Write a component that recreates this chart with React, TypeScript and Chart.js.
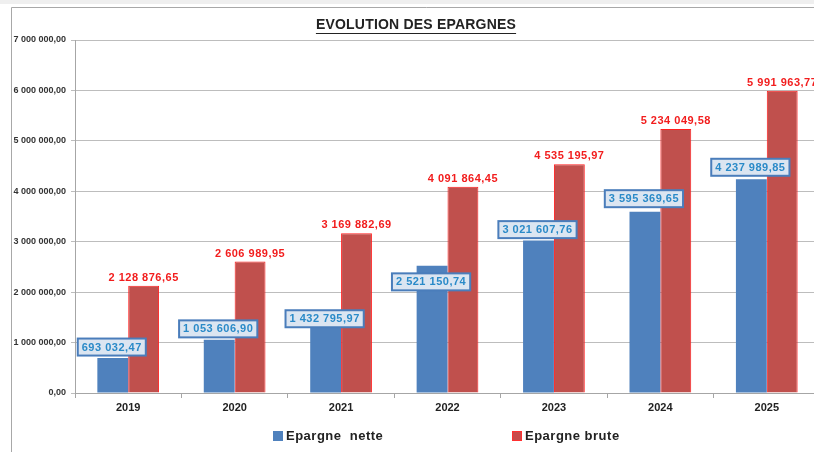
import React, { useEffect, useRef } from "react";
import { Chart, registerables } from "chart.js";

Chart.register(...registerables);

const years = ["2019", "2020", "2021", "2022", "2023", "2024", "2025"];
const epargneNette = [693032.47, 1053606.9, 1432795.97, 2521150.74, 3021607.76, 3595369.65, 4237989.85];
const epargneBrute = [2128876.65, 2606989.95, 3169882.69, 4091864.45, 4535195.97, 5234049.58, 5991963.77];
const seriesNames = ["Epargne  nette", "Epargne brute"];
const chartTitle = "EVOLUTION DES EPARGNES";

const BLUE = "#4f81bd";
const RED = "#c0504d";
const FONT = "'Liberation Sans', Arial, sans-serif";

function fmt(v: number): string {
  const [i, d] = v.toFixed(2).split(".");
  return i.replace(/\B(?=(\d{3})+(?!\d))/g, " ") + "," + d;
}

// vertical nudges (px) of the boxed labels, as in the source picture
const netLabelNudge = [0, 0, 9, 27, 0, -2, -1];

const decorPlugin = {
  id: "decor",
  beforeDraw(chart: any) {
    const ctx = chart.ctx;
    ctx.save();
    ctx.fillStyle = "#ffffff";
    ctx.fillRect(0, 0, chart.width, chart.height);
    ctx.fillStyle = "#efefef";
    ctx.fillRect(0, 0, chart.width, 4);
    ctx.strokeStyle = "#a8a8a8";
    ctx.lineWidth = 1;
    ctx.beginPath();
    ctx.moveTo(11.5, chart.height + 2);
    ctx.lineTo(11.5, 7.5);
    ctx.lineTo(chart.width + 2, 7.5);
    ctx.stroke();
    ctx.restore();
  },
  afterDraw(chart: any) {
    const ctx = chart.ctx;
    ctx.save();
    // title
    ctx.font = `bold 14px ${FONT}`;
    ctx.fillStyle = "#222222";
    ctx.textAlign = "center";
    ctx.textBaseline = "middle";
    const tx = 416;
    const ty = 25;
    (ctx as any).letterSpacing = "0.2px";
    ctx.fillText(chartTitle, tx, ty);
    const w = ctx.measureText(chartTitle).width;
    ctx.strokeStyle = "#222222";
    ctx.lineWidth = 1;
    ctx.beginPath();
    ctx.moveTo(tx - w / 2, ty + 8.5);
    ctx.lineTo(tx + w / 2, ty + 8.5);
    ctx.stroke();

    // legend
    const items = [
      { x: 273, color: BLUE, border: BLUE, text: seriesNames[0] },
      { x: 512, color: "#c94a4a", border: "#ff3030", text: seriesNames[1] },
    ];
    ctx.font = `bold 13px ${FONT}`;
    (ctx as any).letterSpacing = "0.5px";
    ctx.textAlign = "left";
    ctx.textBaseline = "middle";
    for (const it of items) {
      ctx.fillStyle = it.color;
      ctx.fillRect(it.x, 431, 10, 10);
      ctx.strokeStyle = it.border;
      ctx.strokeRect(it.x + 0.5, 431.5, 9, 9);
      ctx.fillStyle = "#222222";
      ctx.fillText(it.text, it.x + 13, 436);
    }
    ctx.restore();
  },
  afterDatasetsDraw(chart: any) {
    const ctx = chart.ctx;
    ctx.save();
    // red labels
    const mb = chart.getDatasetMeta(1);
    ctx.font = `bold 11px ${FONT}`;
    (ctx as any).letterSpacing = "0.5px";
    ctx.textAlign = "center";
    ctx.textBaseline = "middle";
    ctx.fillStyle = "#f21d1d";
    mb.data.forEach((el: any, i: number) => {
      ctx.fillText(fmt(epargneBrute[i]), el.x, el.y - 8);
    });
    // boxed blue labels
    const mn = chart.getDatasetMeta(0);
    mn.data.forEach((el: any, i: number) => {
      const text = fmt(epargneNette[i]);
      const tw = ctx.measureText(text).width;
      const bw = tw + 8;
      const bh = 17;
      const cx = el.x - 1;
      const cy = el.y - 11 + netLabelNudge[i];
      ctx.fillStyle = "#dbe5f1";
      ctx.fillRect(cx - bw / 2, cy - bh / 2, bw, bh);
      ctx.strokeStyle = "#4a7dbb";
      ctx.lineWidth = 2;
      ctx.strokeRect(cx - bw / 2, cy - bh / 2, bw, bh);
      ctx.fillStyle = "#2a8ac8";
      ctx.fillText(text, cx, cy + 0.5);
    });
    ctx.restore();
  },
};

export default function App() {
  const ref = useRef<HTMLCanvasElement | null>(null);
  useEffect(() => {
    if (!ref.current) return;
    const chart = new Chart(ref.current, {
      type: "bar",
      data: {
        labels: years,
        datasets: [
          {
            label: seriesNames[0],
            data: epargneNette,
            backgroundColor: BLUE,
            borderWidth: 0,
            barPercentage: 1,
            categoryPercentage: 0.58,
          },
          {
            label: seriesNames[1],
            data: epargneBrute,
            backgroundColor: RED,
            borderColor: "#ff2020",
            borderWidth: 1,
            barPercentage: 1,
            categoryPercentage: 0.58,
          },
        ],
      },
      options: {
        responsive: false,
        animation: false,
        devicePixelRatio: 1,
        layout: { padding: { left: 0, right: 20, top: 40, bottom: 0 } },
        plugins: {
          legend: { display: false },
          title: { display: false },
          tooltip: { enabled: false },
        },
        scales: {
          x: {
            offset: true,
            grid: {
              offset: true,
              drawOnChartArea: false,
              drawTicks: true,
              tickLength: 5,
              color: "#a6a6a6",
            },
            border: { color: "#a6a6a6" },
            ticks: {
              font: { family: FONT, size: 11, weight: "bold" },
              color: "#222222",
              padding: 3,
            },
            afterFit(scale: any) {
              scale.height = 59;
            },
          },
          y: {
            min: 0,
            max: 7000000,
            grid: {
              color: "#bdbdbd",
              tickLength: 4,
            },
            border: { color: "#a6a6a6" },
            ticks: {
              stepSize: 1000000,
              font: { family: FONT, size: 9, weight: "bold" },
              color: "#333333",
              padding: 5,
              callback: (v: any) => fmt(Number(v)),
            },
            afterFit(scale: any) {
              scale.width = 75;
            },
          },
        },
      },
      plugins: [decorPlugin],
    } as any);
    return () => chart.destroy();
  }, []);
  return (
    <div
      style={{
        position: "fixed",
        left: 0,
        top: 0,
        width: 814,
        height: 452,
        overflow: "hidden",
        background: "#fff",
      }}
    >
      <canvas ref={ref} width={840} height={452} style={{ display: "block" }} />
    </div>
  );
}
